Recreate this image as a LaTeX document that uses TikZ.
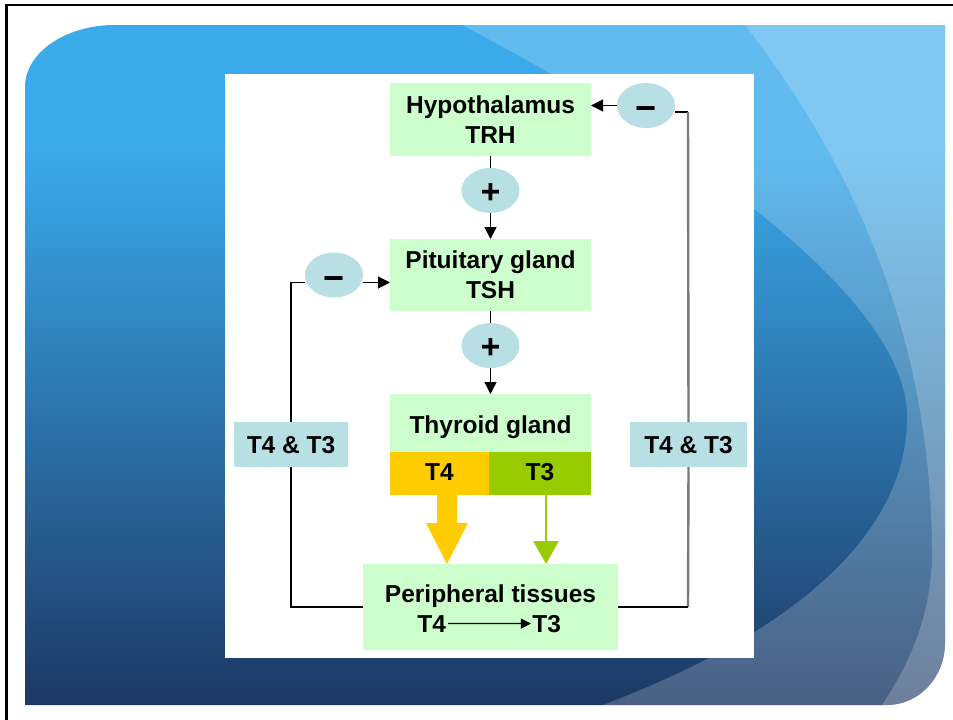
\documentclass[tikz,border=0pt]{standalone}
\usepackage{fontspec}
\setmainfont{Liberation Sans}
\usetikzlibrary{arrows.meta,shapes.geometric,calc}
\definecolor{boxgreen}{HTML}{CCFFCC}
\definecolor{bubble}{HTML}{B8E0E4}
\definecolor{tfour}{HTML}{FFCC00}
\definecolor{tthree}{HTML}{99CC00}
\definecolor{bgtop}{RGB}{58,170,234}
\definecolor{bgbot}{RGB}{29,56,100}
\definecolor{loopgray}{HTML}{7A7A7A}
\begin{document}
\begin{tikzpicture}[x=1pt,y=-1pt,
  every node/.style={font=\bfseries\fontsize{24.5}{30}\selectfont, inner sep=0pt, outer sep=0pt},
  gbox/.style={fill=boxgreen, minimum width=201pt, align=center},
  bub/.style={ellipse, fill=bubble, minimum width=58pt, minimum height=45pt, text depth=0pt},
  lab/.style={fill=bubble, minimum width=114pt, minimum height=45pt, text height=17pt, text depth=0pt},
  conn/.style={line width=1.2pt, black},
  graylink/.style={line width=2.4pt, loopgray},
  arr/.style={conn, -{Triangle[length=12pt,width=12pt]}},
]
\useasboundingbox (0,0) rectangle (953,720);
\fill[white] (0,0) rectangle (953,720);

% background
\begin{scope}
\clip (25,705) -- (25,87) .. controls (25,52.8) and (65.3,25) .. (115,25) -- (945,25) -- (945,643) .. controls (945,677.2) and (919,705) .. (887,705) -- cycle;
\fill[bgtop] (0,0) rectangle (953,151);
\shade[top color=bgtop, bottom color=bgbot] (0,150) rectangle (953,706);
\fill[white, fill opacity=0.2] (462,25) -- (462,0) -- (960,0) -- (960,720) -- (563,720) -- (603,705) .. controls (800,630) and (910,530) .. (907,413) .. controls (903,300) and (700,150) .. (462,25) -- cycle;
\fill[white, fill opacity=0.2] (745,25) -- (745,0) -- (960,0) -- (960,720) -- (875,720) -- (882,705) .. controls (905,670) and (933,620) .. (932,547) .. controls (930,330) and (850,160) .. (745,25) -- cycle;
\end{scope}
\fill[white] (225,74) rectangle (754,658);
\draw[line width=2.5pt, black] (6.5,720) -- (6.5,5.2) -- (953,5.2);

% boxes
\node[gbox, minimum height=73pt] (hyp) at (490.5,119.5) {Hypothalamus\\TRH};
\node[gbox, minimum height=72pt] (pit) at (490.5,275) {Pituitary gland\\TSH};
\node[gbox, minimum height=58pt, text height=20pt, text depth=0pt] (thy) at (490.5,423) {Thyroid gland};
\node[fill=tfour, minimum width=99pt, minimum height=43pt, text height=13pt, text depth=0pt] (t4) at (439.5,473.5) {T4};
\node[fill=tthree, minimum width=102pt, minimum height=43pt, text height=13pt, text depth=0pt] (t3) at (540,473.5) {T3};
\node[fill=boxgreen, minimum width=255pt, minimum height=86pt] (periph) at (490.5,607) {};
\node[anchor=base] (ptitle) at (490.5,602) {Peripheral tissues};
\node[anchor=base] (pt4) at (431.7,632) {T4};
\node[anchor=base] (pt3) at (546.7,632) {T3};

% bubbles
\node[bub, text height=30pt] (mtop) at (646,105.5) {\fontsize{36}{36}\selectfont −};
\node[bub, text height=26pt] (p1) at (490.5,190.5) {\fontsize{34}{34}\selectfont +};
\node[bub, text height=30pt] (mleft) at (334,275) {\fontsize{36}{36}\selectfont −};
\node[bub, text height=26pt] (p2) at (490.5,345.5) {\fontsize{34}{34}\selectfont +};

% labels
\node[lab] (llab) at (291,444.5) {T4 \& T3};
\node[lab, minimum width=117pt] (rlab) at (688.5,444.5) {T4 \& T3};

% main chain
\draw[conn] (hyp.south) -- (p1.north);
\draw[arr] (p1.south) -- (pit.north);
\draw[conn] (pit.south) -- (p2.north);
\draw[arr] (p2.south) -- (thy.north);

% right feedback loop
\coordinate (rtop) at (688,112);
\coordinate (rbot) at (688,607);
\draw[arr] (mtop.west) -- (mtop.west -| hyp.east);
\draw[conn] (mtop.east |- rtop) -- (rtop);
\draw[graylink] (rtop) -- (rlab.north);
\draw[graylink] (rlab.south) -- (rbot);
\draw[conn] (rbot) -- (periph.east);

% left feedback loop
\coordinate (ltop) at (291,282.5);
\coordinate (lbot) at (291,607);
\draw[conn] (mleft.west |- ltop) -- (ltop) -- (llab.north);
\draw[conn] (llab.south) -- (lbot) -- (periph.west);
\draw[arr] (mleft.east |- ltop) -- (pit.west |- ltop);

% hormone arrows
\coordinate (a4) at ($(t4.south)+(7.5,0)$);
\fill[tfour] ($(a4)+(-10,0)$) -- ($(a4)+(10,0)$) -- ($(a4)+(10,28)$) -- ($(a4)+(21,28)$) -- (a4 |- periph.north) -- ($(a4)+(-21,28)$) -- ($(a4)+(-10,28)$) -- cycle;
\coordinate (a3) at ($(t3.south)+(6,0)$);
\draw[tthree, line width=2.8pt, -{Triangle[length=23pt,width=25pt]}] (a3) -- (a3 |- periph.north);

% conversion arrow
\draw[conn, -{Triangle[length=10pt,width=10pt]}] ([xshift=2pt]pt4.east) -- ([xshift=-1.5pt]pt3.west);
\end{tikzpicture}
\end{document}
